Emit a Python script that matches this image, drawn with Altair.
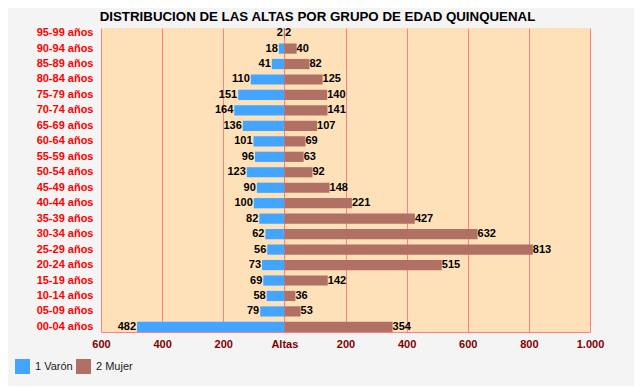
import altair as alt
import pandas as pd

groups = ["95-99 años", "90-94 años", "85-89 años", "80-84 años", "75-79 años",
          "70-74 años", "65-69 años", "60-64 años", "55-59 años", "50-54 años",
          "45-49 años", "40-44 años", "35-39 años", "30-34 años", "25-29 años",
          "20-24 años", "15-19 años", "10-14 años", "05-09 años", "00-04 años"]
varon = [2, 18, 41, 110, 151, 164, 136, 101, 96, 123, 90, 100, 82, 62, 56, 73, 69, 58, 79, 482]
mujer = [2, 40, 82, 125, 140, 141, 107, 69, 63, 92, 148, 221, 427, 632, 813, 515, 142, 36, 53, 354]
series = ["1 Varón", "2 Mujer"]
colors = ["#42a5ff", "#b07064"]

rows = []
for g, v, m in zip(groups, varon, mujer):
    rows.append({"grupo": g, "sexo": series[0], "valor": v, "x": -v})
    rows.append({"grupo": g, "sexo": series[1], "valor": m, "x": m})
df = pd.DataFrame(rows)

FONT = "Liberation Sans"

y_enc = alt.Y("grupo:N", sort=groups, title=None,
              scale=alt.Scale(paddingInner=0.34, paddingOuter=0),
              axis=alt.Axis(labelColor="#ff0000", labelFontWeight="bold", labelFontSize=11,
                            labelFont=FONT, ticks=False, domain=False, grid=False, labelPadding=8))
x_enc = alt.X("x:Q", title=None,
              scale=alt.Scale(domain=[-600, 1000], nice=False, zero=False),
              axis=alt.Axis(values=[-600, -400, -200, 0, 200, 400, 600, 800, 1000],
                            labelExpr="datum.value == 0 ? 'Altas' : (datum.value == 1000 ? '1.000' : format(abs(datum.value), 'd'))",
                            labelColor="#800000", labelFontWeight="bold", labelFontSize=11, labelFont=FONT,
                            ticks=False, grid=True, gridColor="#ff8080", gridOpacity=1, gridWidth=1,
                            domain=True, domainColor="#ff8080", domainWidth=1, labelPadding=6,
                            labelFlush=False))

base = alt.Chart(df)

bars = base.mark_bar().encode(
    y=y_enc,
    x=x_enc,
    color=alt.Color("sexo:N", title=None,
                    scale=alt.Scale(domain=series, range=colors),
                    legend=alt.Legend(orient="none", legendX=-86, legendY=331, direction="horizontal",
                                      symbolType="square", symbolSize=225, symbolStrokeWidth=0,
                                      symbolOpacity=1, labelFont=FONT, labelFontSize=11,
                                      labelColor="#222222", labelOffset=5, columnPadding=3,
                                      padding=0)),
)

txt_v = base.transform_filter(alt.datum.sexo == series[0]).mark_text(
    align="right", baseline="middle", dx=-1, font=FONT, fontSize=11, fontWeight="bold", color="#000000"
).encode(y=alt.Y("grupo:N", sort=groups), x=alt.X("x:Q"), text="valor:Q")

txt_m = base.transform_filter(alt.datum.sexo == series[1]).mark_text(
    align="left", baseline="middle", dx=0, font=FONT, fontSize=11, fontWeight="bold", color="#000000"
).encode(y=alt.Y("grupo:N", sort=groups), x=alt.X("x:Q"), text="valor:Q")

chart = alt.layer(bars, txt_v, txt_m).properties(
    width=489, height=304,
    title=alt.TitleParams("DISTRIBUCION DE LAS ALTAS POR GRUPO DE EDAD QUINQUENAL",
                          font=FONT, fontSize=13.3, fontWeight="bold", color="#000000",
                          anchor="middle", frame="group", dx=-28, offset=3),
    padding={"left": 93, "top": 20, "right": 44, "bottom": 54},
    autosize=alt.AutoSizeParams(type="none"),
).configure(background="#f4f4f4").configure_view(fill="#ffe1b9", strokeWidth=0)

chart.save("out.html", embed_options={"renderer": "svg", "actions": False})
